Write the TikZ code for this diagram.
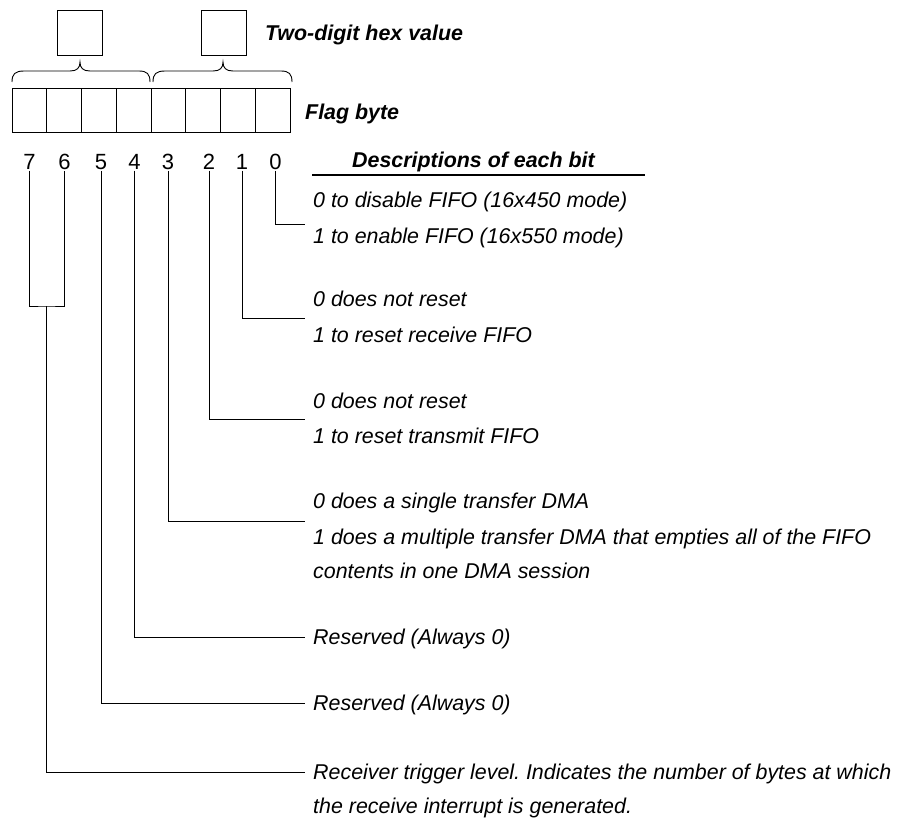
\documentclass[tikz,border=0pt]{standalone}
\usepackage{fontspec}
\setmainfont{Liberation Sans}
\frenchspacing
\begin{document}
\begin{tikzpicture}[x=1pt,y=-1pt,
  wire/.style={line width=0.9pt,black},
  box/.style={draw,line width=0.9pt,minimum width=45pt,minimum height=45pt,inner sep=0pt},
  cell/.style={draw,line width=0.9pt,minimum width=34.75pt,minimum height=44pt,inner sep=0pt},
  digit/.style={font=\fontsize{22}{26}\selectfont,inner sep=1.5pt,anchor=base},
  desc/.style={font=\fontsize{21.4}{25}\selectfont\itshape,anchor=base west,inner sep=0pt},
  head/.style={font=\fontsize{21.4}{25}\selectfont\bfseries\itshape,anchor=base west,inner sep=0pt}]
\useasboundingbox (0,0) rectangle (902,817);

% hex digit boxes
\node[box] (hexhi) at (79.5,32.5) {};
\node[box] (hexlo) at (223.5,32.5) {};
\node[head] (hexlbl) at (265,40) {Two-digit hex value};

% braces
\draw[wire] (12,82) .. controls (12,74) and (15,71) .. (24,71) -- (70,71)
  .. controls (77,71) and (80,68) .. (80,62)
  .. controls (80,68) and (83,71) .. (90,71) -- (139,71)
  .. controls (147,71) and (150,74) .. (150,82);
\draw[wire] (153,82) .. controls (153,74) and (156,71) .. (165,71) -- (213,71)
  .. controls (220,71) and (223,68) .. (223,62)
  .. controls (223,68) and (226,71) .. (233,71) -- (281,71)
  .. controls (289,71) and (292,74) .. (292,82);

% flag byte cells
\foreach \i in {0,...,7} {
  \node[cell] (cell\i) at ({12+34.75*(7-\i)+17.375},110) {};
}
\node[head] (flaglbl) at (305,119) {Flag byte};

% bit numbers
\node[digit] (b7) at (29.5,169) {7};
\node[digit] (b6) at (64.5,169) {6};
\node[digit] (b5) at (101,169) {5};
\node[digit] (b4) at (134.5,169) {4};
\node[digit] (b3) at (168,169) {3};
\node[digit] (b2) at (209,169) {2};
\node[digit] (b1) at (242,169) {1};
\node[digit] (b0) at (275.5,169) {0};

% heading
\node[head] (deschead) at (352,167) {Descriptions of each bit};
\coordinate (ulA) at (312,175);
\coordinate (ulB) at (645,175);
\draw[line width=1.6pt] (ulA) -- (ulB);

% descriptions
\node[desc] (d0a) at (313,207) {0 to disable FIFO (16x450 mode)};
\node[desc] (d0b) at (313,243) {1 to enable FIFO (16x550 mode)};
\node[desc] (d1a) at (313,306) {0 does not reset};
\node[desc] (d1b) at (313,342) {1 to reset receive FIFO};
\node[desc] (d2a) at (313,408) {0 does not reset};
\node[desc] (d2b) at (313,443) {1 to reset transmit FIFO};
\node[desc] (d3a) at (313,508) {0 does a single transfer DMA};
\node[desc] (d3b) at (313,544) {1 does a multiple transfer DMA that empties all of the FIFO};
\node[desc] (d3c) at (313,578) {contents in one DMA session};
\node[desc] (d4) at (313,644) {Reserved (Always 0)};
\node[desc] (d5) at (313,710) {Reserved (Always 0)};
\node[desc] (d76a) at (313,779) {Receiver trigger level. Indicates the number of bytes at which};
\node[desc] (d76b) at (313,813) {the receive interrupt is generated.};

% connector end points
\coordinate (c0) at (305,224);
\coordinate (c1) at (305,318);
\coordinate (c2) at (305,419);
\coordinate (c3) at (305,521);
\coordinate (c4) at (305,637);
\coordinate (c5) at (305,703);
\coordinate (c76) at (305,772);
\coordinate (j76) at (46.5,306);

% connectors
\draw[wire] (b0.south) |- (c0);
\draw[wire] (b1.south) |- (c1);
\draw[wire] (b2.south) |- (c2);
\draw[wire] (b3.south) |- (c3);
\draw[wire] (b4.south) |- (c4);
\draw[wire] (b5.south) |- (c5);
\draw[wire] (b7.south) |- (j76) -| (b6.south);
\draw[wire] (j76) |- (c76);
\end{tikzpicture}
\end{document}
